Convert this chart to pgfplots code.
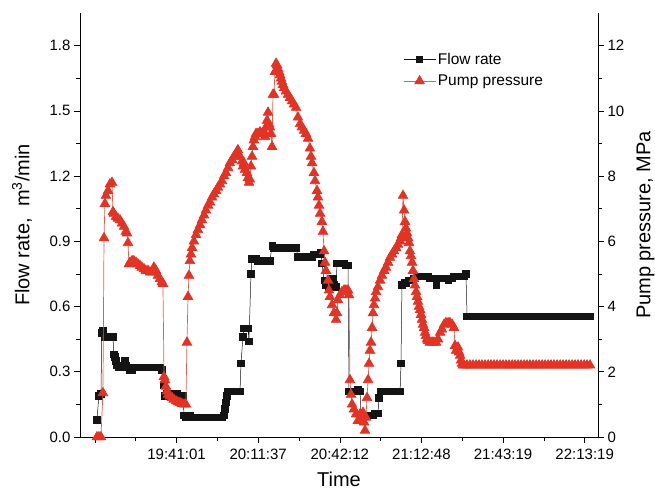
\documentclass[border=0pt]{standalone}
\usepackage{fontspec}
\setmainfont{Liberation Sans}
\usepackage{pgfplots}
\usepackage{pgfplotstable}
\pgfplotsset{compat=1.18}

\definecolor{pumpred}{RGB}{226,51,36}
\definecolor{flowblack}{RGB}{20,20,20}

% Flow rate, m^3/min, against minutes after the first logged sample
\pgfplotstableread{
t q
0.75 0.08
1.5 0.19
2.25 0.20
2.6 0.48
3.0 0.49
3.75 0.46
4.5 0.46
5.25 0.46
6.0 0.46
6.75 0.46
7.1 0.38
7.5 0.37
7.9 0.35
8.25 0.33
9.0 0.32
9.75 0.32
10.5 0.32
11.25 0.35
11.6 0.33
12.4 0.32
13.1 0.31
13.9 0.31
14.6 0.32
15.4 0.32
16.1 0.32
16.9 0.32
17.6 0.32
18.4 0.32
19.1 0.32
19.9 0.32
20.6 0.32
21.4 0.32
22.1 0.32
22.9 0.32
23.6 0.32
24.4 0.32
25.1 0.31
25.9 0.24
26.25 0.19
27.0 0.20
27.75 0.20
28.5 0.19
29.25 0.20
30.0 0.20
30.75 0.20
31.5 0.19
32.25 0.19
33.0 0.19
33.4 0.10
34.1 0.09
34.9 0.10
35.6 0.10
36.4 0.09
37.1 0.09
37.9 0.09
38.6 0.09
39.4 0.09
40.1 0.09
40.9 0.09
41.6 0.09
42.4 0.09
43.1 0.09
43.9 0.09
44.6 0.09
45.4 0.09
46.1 0.09
46.9 0.09
47.6 0.09
48.4 0.10
48.75 0.13
49.1 0.16
49.5 0.19
49.9 0.21
50.6 0.21
51.4 0.21
52.1 0.21
52.9 0.21
53.6 0.21
54.4 0.21
54.75 0.34
55.5 0.46
55.9 0.50
56.6 0.50
57.4 0.50
57.75 0.44
58.5 0.75
58.9 0.82
59.6 0.82
60.4 0.82
61.1 0.81
61.9 0.81
62.6 0.81
63.4 0.81
64.1 0.81
64.9 0.81
65.6 0.81
66.4 0.88
67.1 0.87
67.9 0.87
68.6 0.87
69.4 0.87
70.1 0.87
70.9 0.87
71.6 0.87
72.4 0.87
73.1 0.87
73.9 0.87
74.6 0.87
75.4 0.87
76.1 0.83
76.9 0.83
77.6 0.83
78.4 0.83
79.1 0.83
79.9 0.83
80.6 0.83
81.4 0.83
82.1 0.84
82.9 0.84
83.6 0.84
84.4 0.84
84.75 0.85
85.1 0.80
85.9 0.72
86.6 0.70
87.4 0.68
88.1 0.69
88.5 0.73
89.25 0.73
89.6 0.70
90.4 0.69
90.75 0.80
91.5 0.80
92.6 0.80
93.4 0.80
94.1 0.79
94.9 0.79
95.25 0.21
96.0 0.21
96.4 0.21
97.1 0.21
97.9 0.21
98.6 0.22
99.4 0.21
99.75 0.10
100.5 0.10
101.25 0.10
102.0 0.10
102.75 0.10
103.5 0.10
104.25 0.10
105.0 0.11
105.4 0.11
106.1 0.11
106.5 0.18
106.9 0.21
107.6 0.21
108.4 0.21
109.1 0.21
109.9 0.21
110.6 0.21
111.4 0.21
112.1 0.21
112.9 0.21
113.6 0.21
114.4 0.21
114.75 0.34
115.1 0.70
115.9 0.71
116.6 0.71
117.4 0.72
118.1 0.72
118.9 0.72
119.6 0.73
120.4 0.74
121.1 0.74
121.9 0.74
122.6 0.74
123.4 0.74
124.1 0.74
124.9 0.74
125.6 0.73
126.4 0.73
127.1 0.73
127.9 0.70
128.6 0.73
129.4 0.73
130.1 0.73
130.9 0.73
131.6 0.73
132.4 0.72
133.1 0.73
133.9 0.73
134.6 0.74
135.4 0.74
136.1 0.74
136.9 0.74
137.6 0.74
138.4 0.74
139.1 0.75
139.5 0.555
140.6 0.555
141.75 0.555
142.9 0.555
144.0 0.555
145.1 0.555
146.25 0.555
147.4 0.555
148.5 0.555
149.6 0.555
150.75 0.555
151.9 0.555
153.0 0.555
154.1 0.555
155.25 0.555
156.4 0.555
157.5 0.555
158.6 0.555
159.75 0.555
160.9 0.555
162.0 0.555
163.1 0.555
164.25 0.555
165.4 0.555
166.5 0.555
167.6 0.555
168.75 0.555
169.9 0.555
171.0 0.555
172.1 0.555
173.25 0.555
174.4 0.555
175.5 0.555
176.6 0.555
177.75 0.555
178.9 0.555
180.0 0.555
181.1 0.555
182.25 0.555
183.4 0.555
184.5 0.555
185.6 0.555
}\flowtable

% Pump pressure, MPa, on the same time base
\pgfplotstableread{
t p
0.75 0.0
1.5 0.0
2.25 0.0
3.0 1.35
3.4 6.1
3.75 7.15
4.1 7.4
4.9 7.55
5.6 7.75
6.4 7.8
6.75 6.9
7.1 6.85
7.9 6.75
8.6 6.7
9.4 6.65
10.1 6.55
10.9 6.45
11.6 6.3
12.0 6.25
12.4 5.95
12.75 5.3
13.1 5.35
13.9 5.4
14.6 5.4
15.4 5.35
16.1 5.3
16.9 5.25
17.6 5.2
18.4 5.15
19.1 5.1
19.9 5.1
20.6 5.05
21.4 5.05
22.1 5.2
22.9 5.1
23.6 4.95
24.4 4.85
25.1 4.75
25.5 4.7
25.9 1.85
26.25 1.75
26.6 1.55
27.0 1.4
27.4 1.3
28.1 1.25
28.9 1.2
29.6 1.15
30.4 1.1
31.1 1.07
31.9 1.05
32.6 1.02
33.4 1.0
34.1 1.0
34.5 2.9
34.9 4.3
35.25 4.95
35.6 5.4
36.0 5.6
36.4 5.8
37.1 6.0
37.9 6.2
38.6 6.35
39.4 6.5
40.1 6.65
40.9 6.8
41.6 6.95
42.4 7.1
43.1 7.2
43.9 7.35
44.6 7.45
45.4 7.55
46.1 7.65
46.9 7.75
47.6 7.85
48.4 8.0
49.1 8.1
49.9 8.25
50.6 8.4
51.4 8.5
52.1 8.6
52.9 8.7
53.6 8.8
54.4 8.6
55.1 8.45
55.5 8.3
55.9 8.4
56.25 8.2
57.0 8.1
57.4 7.95
57.75 7.8
58.1 7.9
58.5 8.3
58.9 8.6
59.25 8.9
59.6 9.1
60.0 9.2
60.4 9.3
61.1 9.3
61.9 9.35
62.6 9.3
63.4 9.35
63.75 9.2
64.1 9.5
64.5 9.7
64.9 9.95
65.25 9.6
65.6 9.5
66.0 9.3
66.4 8.9
66.75 10.5
67.1 10.5
67.5 11.2
67.9 11.45
68.25 11.4
68.6 11.3
69.0 11.2
69.4 11.1
69.75 11.0
70.1 10.9
70.5 10.8
70.9 10.7
71.6 10.6
72.4 10.5
73.1 10.4
73.9 10.3
74.6 10.2
75.4 10.1
76.1 9.8
76.9 9.6
77.6 9.5
78.4 9.4
79.1 9.3
79.9 9.15
80.6 8.85
81.0 8.6
81.4 8.4
82.1 8.1
82.5 7.85
83.25 7.55
83.6 7.35
84.0 7.1
84.4 6.85
85.1 6.6
85.5 6.3
85.9 5.7
86.25 5.35
86.6 5.1
87.4 4.8
87.75 4.5
88.1 4.3
88.9 4.05
89.6 3.8
90.4 3.6
90.75 3.8
91.1 4.2
91.9 4.35
92.6 4.45
93.4 4.5
94.1 4.5
94.9 4.5
95.25 4.35
95.6 1.75
96.0 1.3
96.4 1.0
97.1 0.85
97.9 0.7
98.6 0.5
99.4 0.7
100.1 0.6
100.5 0.75
100.9 0.45
101.25 0.2
101.6 0.6
102.0 1.2
102.4 1.75
102.75 2.25
103.1 2.65
103.5 2.9
103.9 3.35
104.25 3.8
104.6 4.05
105.0 4.25
105.4 4.45
106.1 4.6
106.9 4.8
107.6 4.95
108.4 5.1
109.1 5.2
109.9 5.35
110.6 5.5
111.4 5.6
112.1 5.7
112.9 5.8
113.6 5.9
114.4 6.0
114.75 6.1
115.1 6.2
115.5 7.4
115.9 6.95
116.25 6.6
116.6 6.4
117.0 6.25
117.4 6.1
117.75 5.95
118.1 5.7
118.5 5.55
118.9 5.35
119.25 5.1
119.6 4.85
120.0 4.65
120.4 4.45
120.75 4.3
121.1 4.15
121.5 4.0
121.9 3.9
122.25 3.75
122.6 3.6
123.0 3.45
123.4 3.35
123.75 3.2
124.1 3.1
124.5 3.0
124.9 2.95
125.6 2.9
126.4 2.9
127.1 2.9
127.9 2.9
128.6 3.0
129.4 3.2
130.1 3.3
130.9 3.45
131.6 3.5
132.4 3.5
133.1 3.5
133.9 3.45
134.6 3.35
135.0 2.8
135.4 2.65
136.1 2.75
136.5 2.6
136.9 2.5
137.25 2.35
137.6 2.25
138.0 2.2
138.4 2.2
139.5 2.2
140.6 2.2
141.75 2.2
142.9 2.2
144.0 2.2
145.1 2.2
146.25 2.2
147.4 2.2
148.5 2.2
149.6 2.2
150.75 2.2
151.9 2.2
153.0 2.2
154.1 2.2
155.25 2.2
156.4 2.2
157.5 2.2
158.6 2.2
159.75 2.2
160.9 2.2
162.0 2.2
163.1 2.2
164.25 2.2
165.4 2.2
166.5 2.2
167.6 2.2
168.75 2.2
169.9 2.2
171.0 2.2
172.1 2.2
173.25 2.2
174.4 2.2
175.5 2.2
176.6 2.2
177.75 2.2
178.9 2.2
180.0 2.2
181.1 2.2
182.25 2.2
183.4 2.2
184.5 2.2
185.6 2.2
}\pressuretable

\begin{document}
\begin{tikzpicture}
\useasboundingbox (-80pt,-53pt) rectangle (575pt,437pt);
\pgfplotsset{
  common/.style={
    width=518pt, height=424pt, scale only axis,
    xmin=-5.6, xmax=188.6,
    ymin=0,
    clip=false,
    tick align=outside,
    major tick length=6pt, minor tick length=3.5pt,
    every tick/.style={line width=0.6pt, black},
    axis line style={line width=0.8pt, black},
    tick label style={font=\fontsize{15}{17}\selectfont},
    label style={font=\fontsize{20}{24}\selectfont},
    /pgf/number format/assume math mode=true,
  },
}
\begin{axis}[common,
  axis x line*=bottom, axis y line*=left,
  ymax=1.95,
  ytick={0,0.3,0.6,0.9,1.2,1.5,1.8}, minor y tick num=1,
  yticklabel style={/pgf/number format/.cd, fixed, fixed zerofill, precision=1},
  xtick={0,30.6,61.2,91.8,122.4,153,183.6},
  xticklabels={,19:41:01,20:11:37,20:42:12,21:12:48,21:43:19,22:13:19},
  xticklabel style={yshift=-2pt},
  minor x tick num=1,
  xlabel={Time},
  xlabel style={at={(axis description cs:0.5,-0.1)}, anchor=center},
  ylabel={Flow rate,\ \ m\textsuperscript{3}/min},
  ylabel style={at={(axis description cs:-0.112,0.5)}, anchor=center, rotate=0},
]
\addplot[flowblack, line width=0.5pt, mark=square*, mark size=3.3pt,
  mark options={solid, fill=flowblack}] table[x=t, y=q]{\flowtable};
\end{axis}
\begin{axis}[common,
  axis x line=none, axis y line*=right,
  ymax=13, ytick={0,2,4,6,8,10,12}, minor y tick num=1,
  ylabel={Pump pressure, MPa},
  ylabel style={at={(axis description cs:1.092,0.5)}, anchor=center},
  legend style={at={(0.618,0.915)}, anchor=north west, draw=none, fill=none,
    font=\fontsize{15.5}{18}\selectfont, row sep=5pt},
  legend cell align=left,
  legend image code/.code={\draw[mark repeat=2, mark phase=2, #1]
    plot coordinates {(0cm,0cm) (0.56cm,0cm) (1.12cm,0cm)};},
]
\addlegendimage{flowblack, line width=0.5pt, mark=square*, mark size=3pt,
  mark options={solid, fill=flowblack}}
\addlegendentry{Flow rate}
\addplot[pumpred!80, line width=0.7pt, mark=triangle*, mark size=5.5pt,
  mark options={solid, pumpred, fill=pumpred}] table[x=t, y=p]{\pressuretable};
\addlegendentry{Pump pressure}
\end{axis}
\end{tikzpicture}
\end{document}
